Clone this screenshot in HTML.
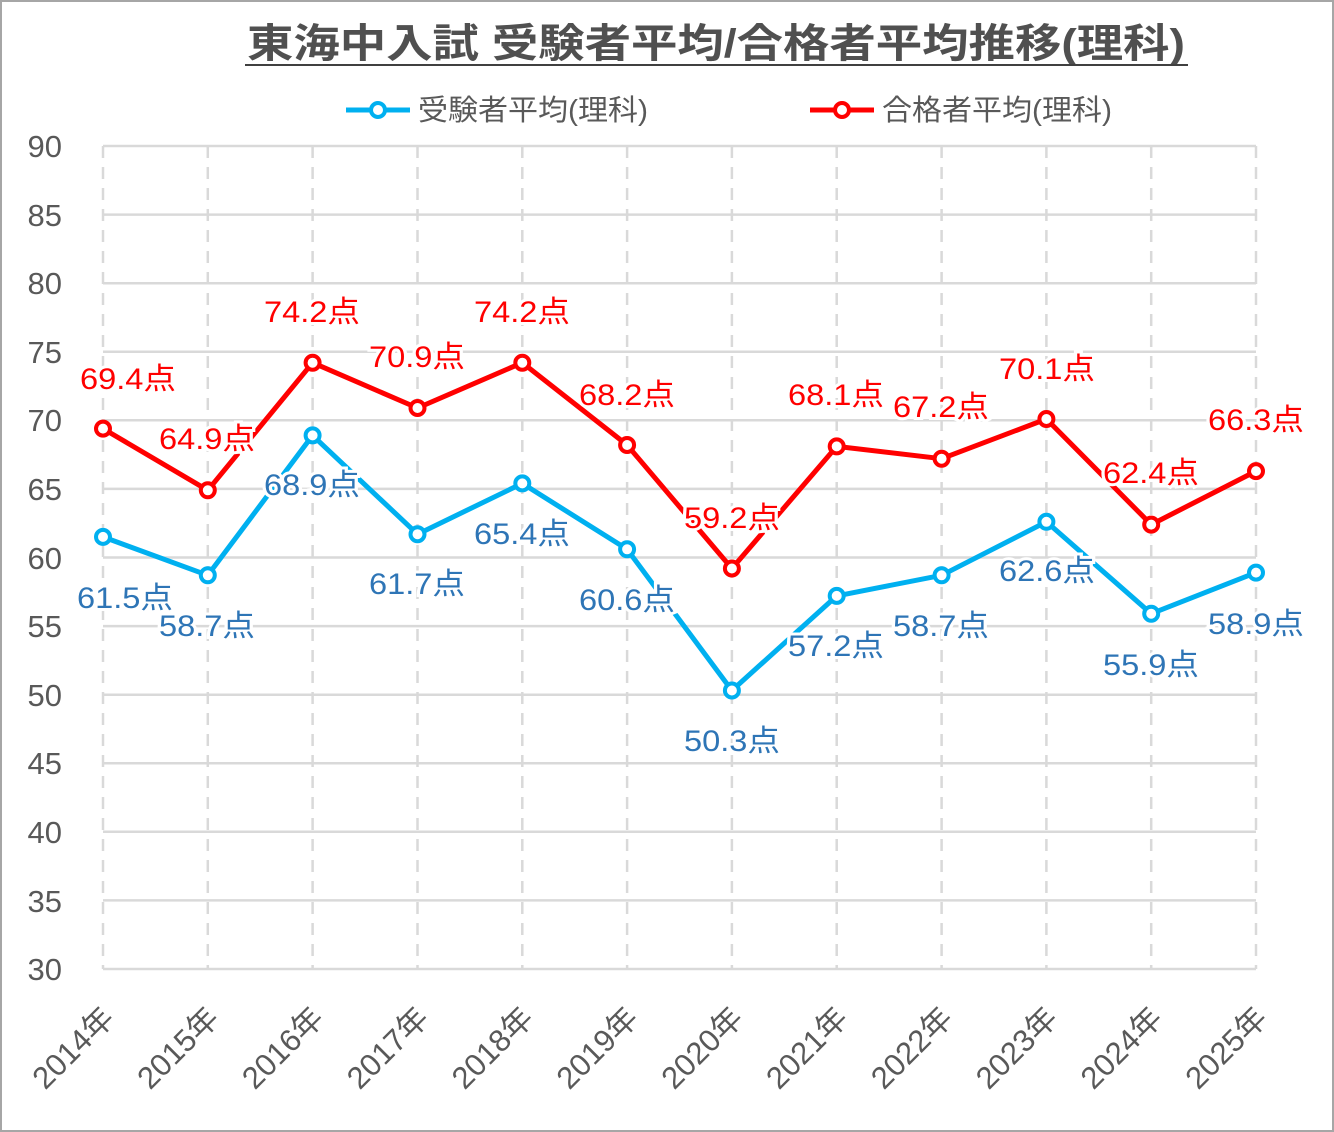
<!DOCTYPE html>
<html><head><meta charset="utf-8"><style>
html,body{margin:0;padding:0;background:#fff}
svg{display:block}
text{font-family:"Liberation Sans","Noto Sans CJK JP",sans-serif}
</style></head><body>
<svg width="1334" height="1132" viewBox="0 0 1334 1132" xmlns="http://www.w3.org/2000/svg">
<rect x="1" y="1" width="1332" height="1130" fill="#fff" stroke="#a6a6a6" stroke-width="2"/>
<text x="247" y="57" font-size="40" font-weight="bold" fill="#505050" textLength="938" lengthAdjust="spacingAndGlyphs">東海中入試 受験者平均/合格者平均推移(理科)</text>
<line x1="245" y1="65" x2="1188" y2="65" stroke="#404040" stroke-width="2"/>
<!-- legend -->
<line x1="346" y1="110" x2="410" y2="110" stroke="#00b0f0" stroke-width="5"/>
<circle cx="378" cy="110" r="7" fill="#fff" stroke="#00b0f0" stroke-width="4"/>
<text x="418" y="120" font-size="29" fill="#595959" textLength="230" lengthAdjust="spacingAndGlyphs">受験者平均(理科)</text>
<line x1="810" y1="110" x2="874" y2="110" stroke="#ff0000" stroke-width="5"/>
<circle cx="842" cy="110" r="7" fill="#fff" stroke="#ff0000" stroke-width="4"/>
<text x="882" y="120" font-size="29" fill="#595959" textLength="230" lengthAdjust="spacingAndGlyphs">合格者平均(理科)</text>
<!-- grid -->
<g stroke="#d9d9d9" stroke-width="2.5">
<line x1="103" y1="146" x2="1256" y2="146"/><line x1="103" y1="214.6" x2="1256" y2="214.6"/><line x1="103" y1="283.2" x2="1256" y2="283.2"/><line x1="103" y1="351.7" x2="1256" y2="351.7"/><line x1="103" y1="420.3" x2="1256" y2="420.3"/><line x1="103" y1="488.9" x2="1256" y2="488.9"/><line x1="103" y1="557.5" x2="1256" y2="557.5"/><line x1="103" y1="626.1" x2="1256" y2="626.1"/><line x1="103" y1="694.7" x2="1256" y2="694.7"/><line x1="103" y1="763.3" x2="1256" y2="763.3"/><line x1="103" y1="831.8" x2="1256" y2="831.8"/><line x1="103" y1="900.4" x2="1256" y2="900.4"/><line x1="103" y1="969" x2="1256" y2="969"/>
</g>
<g stroke="#d9d9d9" stroke-width="2.5" stroke-dasharray="12,9">
<line x1="103" y1="146" x2="103" y2="969"/><line x1="207.8" y1="146" x2="207.8" y2="969"/><line x1="312.6" y1="146" x2="312.6" y2="969"/><line x1="417.5" y1="146" x2="417.5" y2="969"/><line x1="522.3" y1="146" x2="522.3" y2="969"/><line x1="627.1" y1="146" x2="627.1" y2="969"/><line x1="731.9" y1="146" x2="731.9" y2="969"/><line x1="836.7" y1="146" x2="836.7" y2="969"/><line x1="941.6" y1="146" x2="941.6" y2="969"/><line x1="1046.4" y1="146" x2="1046.4" y2="969"/><line x1="1151.2" y1="146" x2="1151.2" y2="969"/><line x1="1256" y1="146" x2="1256" y2="969"/>
</g>
<!-- y labels -->
<g font-size="31" fill="#595959" text-anchor="end">
<text x="62" y="157">90</text><text x="62" y="226">85</text><text x="62" y="294">80</text><text x="62" y="363">75</text><text x="62" y="431">70</text><text x="62" y="500">65</text><text x="62" y="569">60</text><text x="62" y="637">55</text><text x="62" y="706">50</text><text x="62" y="774">45</text><text x="62" y="843">40</text><text x="62" y="912">35</text><text x="62" y="980">30</text>
</g>
<!-- x labels -->
<g font-size="31" fill="#595959" text-anchor="end">
<text transform="translate(116,1020) rotate(-45)">2014年</text>
<text transform="translate(220.8,1020) rotate(-45)">2015年</text>
<text transform="translate(325.6,1020) rotate(-45)">2016年</text>
<text transform="translate(430.5,1020) rotate(-45)">2017年</text>
<text transform="translate(535.3,1020) rotate(-45)">2018年</text>
<text transform="translate(640.1,1020) rotate(-45)">2019年</text>
<text transform="translate(744.9,1020) rotate(-45)">2020年</text>
<text transform="translate(849.7,1020) rotate(-45)">2021年</text>
<text transform="translate(954.6,1020) rotate(-45)">2022年</text>
<text transform="translate(1059.4,1020) rotate(-45)">2023年</text>
<text transform="translate(1164.2,1020) rotate(-45)">2024年</text>
<text transform="translate(1269,1020) rotate(-45)">2025年</text>
</g>
<!-- series -->
<polyline fill="none" stroke="#00b0f0" stroke-width="5" stroke-linejoin="round" points="103,536.9 207.8,575.3 312.6,435.4 417.5,534.2 522.3,483.4 627.1,549.3 731.9,690.5 836.7,595.9 941.6,575.3 1046.4,521.8 1151.2,613.7 1256,572.6"/>
<polyline fill="none" stroke="#ff0000" stroke-width="5" stroke-linejoin="round" points="103,428.6 207.8,490.3 312.6,362.7 417.5,408 522.3,362.7 627.1,445 731.9,568.5 836.7,446.4 941.6,458.7 1046.4,419 1151.2,524.6 1256,471.1"/>
<!-- labels -->
<g font-size="30" text-anchor="middle" fill="#ff0000" stroke="#fff" stroke-width="6" paint-order="stroke">
<text x="128" y="389" textLength="96" lengthAdjust="spacingAndGlyphs">69.4点</text><text x="207" y="449" textLength="96" lengthAdjust="spacingAndGlyphs">64.9点</text><text x="312" y="322" textLength="96" lengthAdjust="spacingAndGlyphs">74.2点</text><text x="417" y="367" textLength="96" lengthAdjust="spacingAndGlyphs">70.9点</text><text x="522" y="322" textLength="96" lengthAdjust="spacingAndGlyphs">74.2点</text><text x="627" y="405" textLength="96" lengthAdjust="spacingAndGlyphs">68.2点</text><text x="732" y="528" textLength="96" lengthAdjust="spacingAndGlyphs">59.2点</text><text x="836" y="405" textLength="96" lengthAdjust="spacingAndGlyphs">68.1点</text><text x="941" y="417" textLength="96" lengthAdjust="spacingAndGlyphs">67.2点</text><text x="1047" y="379" textLength="96" lengthAdjust="spacingAndGlyphs">70.1点</text><text x="1151" y="483" textLength="96" lengthAdjust="spacingAndGlyphs">62.4点</text><text x="1256" y="430" textLength="96" lengthAdjust="spacingAndGlyphs">66.3点</text>
</g>
<g font-size="30" text-anchor="middle" fill="#2e75b6" stroke="#fff" stroke-width="6" paint-order="stroke">
<text x="125" y="608" textLength="96" lengthAdjust="spacingAndGlyphs">61.5点</text><text x="207" y="636" textLength="96" lengthAdjust="spacingAndGlyphs">58.7点</text><text x="312" y="495" textLength="96" lengthAdjust="spacingAndGlyphs">68.9点</text><text x="417" y="594" textLength="96" lengthAdjust="spacingAndGlyphs">61.7点</text><text x="522" y="544" textLength="96" lengthAdjust="spacingAndGlyphs">65.4点</text><text x="627" y="610" textLength="96" lengthAdjust="spacingAndGlyphs">60.6点</text><text x="732" y="751" textLength="96" lengthAdjust="spacingAndGlyphs">50.3点</text><text x="836" y="656" textLength="96" lengthAdjust="spacingAndGlyphs">57.2点</text><text x="941" y="636" textLength="96" lengthAdjust="spacingAndGlyphs">58.7点</text><text x="1047" y="581" textLength="96" lengthAdjust="spacingAndGlyphs">62.6点</text><text x="1151" y="675" textLength="96" lengthAdjust="spacingAndGlyphs">55.9点</text><text x="1256" y="634" textLength="96" lengthAdjust="spacingAndGlyphs">58.9点</text>
</g>
<g fill="#fff" stroke="#00b0f0" stroke-width="4">
<circle cx="103" cy="536.9" r="7"/><circle cx="207.8" cy="575.3" r="7"/><circle cx="312.6" cy="435.4" r="7"/><circle cx="417.5" cy="534.2" r="7"/><circle cx="522.3" cy="483.4" r="7"/><circle cx="627.1" cy="549.3" r="7"/><circle cx="731.9" cy="690.5" r="7"/><circle cx="836.7" cy="595.9" r="7"/><circle cx="941.6" cy="575.3" r="7"/><circle cx="1046.4" cy="521.8" r="7"/><circle cx="1151.2" cy="613.7" r="7"/><circle cx="1256" cy="572.6" r="7"/>
</g>
<g fill="#fff" stroke="#ff0000" stroke-width="4">
<circle cx="103" cy="428.6" r="7"/><circle cx="207.8" cy="490.3" r="7"/><circle cx="312.6" cy="362.7" r="7"/><circle cx="417.5" cy="408" r="7"/><circle cx="522.3" cy="362.7" r="7"/><circle cx="627.1" cy="445" r="7"/><circle cx="731.9" cy="568.5" r="7"/><circle cx="836.7" cy="446.4" r="7"/><circle cx="941.6" cy="458.7" r="7"/><circle cx="1046.4" cy="419" r="7"/><circle cx="1151.2" cy="524.6" r="7"/><circle cx="1256" cy="471.1" r="7"/>
</g>
</svg>
</body></html>
